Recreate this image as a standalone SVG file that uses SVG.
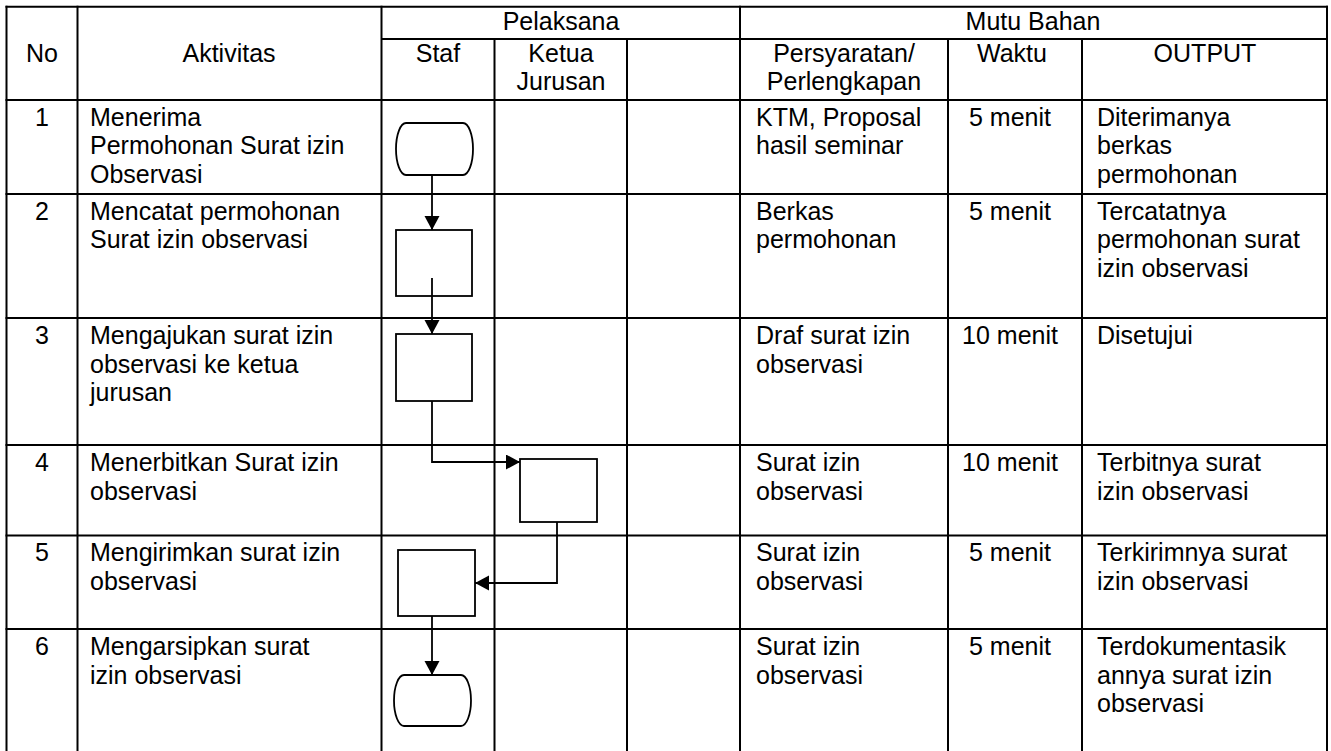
<svg xmlns="http://www.w3.org/2000/svg" width="1331" height="751" viewBox="0 0 1331 751">
<style>
text{font-family:"Liberation Sans",Arial,sans-serif;font-size:25px;fill:#000}
.c{text-anchor:middle}
.grid line{stroke:#000;stroke-width:2}
.shape{fill:#fff;stroke:#000;stroke-width:1.8}
.conn{fill:none;stroke:#000;stroke-width:1.8}
</style>
<defs>
<marker id="ah" markerUnits="userSpaceOnUse" markerWidth="16" markerHeight="16" refX="14" refY="7.5" orient="auto">
<path d="M0,0 L14,7.5 L0,15 Z" fill="#000"/>
</marker>
</defs>
<rect width="1331" height="751" fill="#fff"/>
<g id="table" class="grid">
<line x1="5.5" y1="6.7" x2="1328" y2="6.7"/>
<line x1="381.5" y1="39" x2="1328" y2="39"/>
<line x1="5.5" y1="100" x2="1328" y2="100"/>
<line x1="5.5" y1="194" x2="1328" y2="194"/>
<line x1="5.5" y1="318" x2="1328" y2="318"/>
<line x1="5.5" y1="445" x2="1328" y2="445"/>
<line x1="5.5" y1="535.5" x2="1328" y2="535.5"/>
<line x1="5.5" y1="629" x2="1328" y2="629"/>
<line x1="6.5" y1="5.7" x2="6.5" y2="751"/>
<line x1="77.5" y1="5.7" x2="77.5" y2="751"/>
<line x1="381.5" y1="5.7" x2="381.5" y2="751"/>
<line x1="494.5" y1="39" x2="494.5" y2="751"/>
<line x1="627" y1="39" x2="627" y2="751"/>
<line x1="740" y1="5.7" x2="740" y2="751"/>
<line x1="948" y1="39" x2="948" y2="751"/>
<line x1="1082" y1="39" x2="1082" y2="751"/>
<line x1="1327" y1="5.7" x2="1327" y2="751"/>
</g>
<g id="header">
<text class="c" x="561" y="30">Pelaksana</text>
<text class="c" x="1033" y="30">Mutu Bahan</text>
<text class="c" x="42" y="62">No</text>
<text class="c" x="229" y="62">Aktivitas</text>
<text class="c" x="438" y="62">Staf</text>
<text class="c" x="561" y="62">Ketua</text>
<text class="c" x="561" y="90">Jurusan</text>
<text class="c" x="844" y="62">Persyaratan/</text>
<text class="c" x="844" y="90">Perlengkapan</text>
<text class="c" x="1012" y="62">Waktu</text>
<text class="c" x="1205" y="62">OUTPUT</text>
</g>
<g id="row1">
<text class="c" x="42" y="125.5">1</text>
<text x="90" y="125.5">Menerima</text>
<text x="90" y="154">Permohonan Surat izin</text>
<text x="90" y="182.5">Observasi</text>
<text x="756" y="125.5">KTM, Proposal</text>
<text x="756" y="154">hasil seminar</text>
<text class="c" x="1010" y="125.5">5 menit</text>
<text x="1097" y="125.5">Diterimanya</text>
<text x="1097" y="154">berkas</text>
<text x="1097" y="182.5">permohonan</text>
</g>
<g id="row2">
<text class="c" x="42" y="219.5">2</text>
<text x="90" y="219.5">Mencatat permohonan</text>
<text x="90" y="248">Surat izin observasi</text>
<text x="756" y="219.5">Berkas</text>
<text x="756" y="248">permohonan</text>
<text class="c" x="1010" y="219.5">5 menit</text>
<text x="1097" y="219.5">Tercatatnya</text>
<text x="1097" y="248">permohonan surat</text>
<text x="1097" y="276.5">izin observasi</text>
</g>
<g id="row3">
<text class="c" x="42" y="344">3</text>
<text x="90" y="344">Mengajukan surat izin</text>
<text x="90" y="372.5">observasi ke ketua</text>
<text x="90" y="401">jurusan</text>
<text x="756" y="344">Draf surat izin</text>
<text x="756" y="372.5">observasi</text>
<text class="c" x="1010" y="344">10 menit</text>
<text x="1097" y="344">Disetujui</text>
</g>
<g id="row4">
<text class="c" x="42" y="471">4</text>
<text x="90" y="471">Menerbitkan Surat izin</text>
<text x="90" y="499.5">observasi</text>
<text x="756" y="471">Surat izin</text>
<text x="756" y="499.5">observasi</text>
<text class="c" x="1010" y="471">10 menit</text>
<text x="1097" y="471">Terbitnya surat</text>
<text x="1097" y="499.5">izin observasi</text>
</g>
<g id="row5">
<text class="c" x="42" y="561">5</text>
<text x="90" y="561">Mengirimkan surat izin</text>
<text x="90" y="589.5">observasi</text>
<text x="756" y="561">Surat izin</text>
<text x="756" y="589.5">observasi</text>
<text class="c" x="1010" y="561">5 menit</text>
<text x="1097" y="561">Terkirimnya surat</text>
<text x="1097" y="589.5">izin observasi</text>
</g>
<g id="row6">
<text class="c" x="42" y="655">6</text>
<text x="90" y="655">Mengarsipkan surat</text>
<text x="90" y="683.5">izin observasi</text>
<text x="756" y="655">Surat izin</text>
<text x="756" y="683.5">observasi</text>
<text class="c" x="1010" y="655">5 menit</text>
<text x="1097" y="655">Terdokumentasik</text>
<text x="1097" y="683.5">annya surat izin</text>
<text x="1097" y="712">observasi</text>
</g>
<g id="connectors">
<path class="conn" d="M432,175 V230" marker-end="url(#ah)"/>
<path class="conn" d="M432,278 V334" marker-end="url(#ah)"/>
<path class="conn" d="M432,401 V462 H520" marker-end="url(#ah)"/>
<path class="conn" d="M557,522 V583 H475" marker-end="url(#ah)"/>
<path class="conn" d="M432,616 V675" marker-end="url(#ah)"/>
</g>
<g id="n1-start"><path class="shape" d="M406,123 H463 A10,26 0 0 1 463,175 H406 A10,26 0 0 1 406,123 Z"/></g>
<g id="n2-catat"><rect class="shape" x="396" y="230" width="76" height="66" style="fill:none"/></g>
<g id="n3-ajukan"><rect class="shape" x="396" y="334" width="76" height="67"/></g>
<g id="n4-terbit"><rect class="shape" x="520" y="459" width="77" height="63"/></g>
<g id="n5-kirim"><rect class="shape" x="398" y="550" width="77" height="66"/></g>
<g id="n6-arsip"><path class="shape" d="M404,675 H461 A10,25.5 0 0 1 461,726 H404 A10,25.5 0 0 1 404,675 Z"/></g>
</svg>
